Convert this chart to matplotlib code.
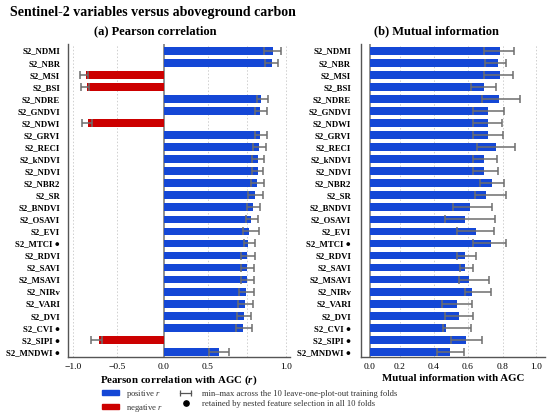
import matplotlib
matplotlib.use("Agg")
import matplotlib.pyplot as plt
import numpy as np
from matplotlib.lines import Line2D
from matplotlib.patches import Patch
from matplotlib.legend_handler import HandlerLine2D

plt.rcParams["font.family"] = ["Liberation Serif", "DejaVu Sans"]
plt.rcParams["mathtext.fontset"] = "custom"
plt.rcParams["mathtext.rm"] = "Liberation Serif"
plt.rcParams["mathtext.it"] = "Liberation Serif:italic"
plt.rcParams["mathtext.bf"] = "Liberation Serif:bold"
plt.rcParams["mathtext.bfit"] = "Liberation Serif:bold:italic"

# ---- data ----
variables = ["S2_NDMI", "S2_NBR", "S2_MSI", "S2_BSI", "S2_NDRE", "S2_GNDVI",
             "S2_NDWI", "S2_GRVI", "S2_RECI", "S2_kNDVI", "S2_NDVI", "S2_NBR2",
             "S2_SR", "S2_BNDVI", "S2_OSAVI", "S2_EVI", "S2_MTCI", "S2_RDVI",
             "S2_SAVI", "S2_MSAVI", "S2_NIRv", "S2_VARI", "S2_DVI", "S2_CVI",
             "S2_SIPI", "S2_MNDWI"]
retained = ["S2_MTCI", "S2_CVI", "S2_SIPI", "S2_MNDWI"]

pearson_r = [0.916, 0.910, -0.851, -0.843, 0.839, 0.835, -0.825, 0.833, 0.826,
             0.822, 0.820, 0.815, 0.800, 0.788, 0.775, 0.766, 0.759, 0.753,
             0.749, 0.749, 0.743, 0.736, 0.730, 0.725, -0.702, 0.571]
pearson_lo = [0.860, 0.867, -0.918, -0.907, 0.813, 0.802, -0.899, 0.802, 0.792,
              0.785, 0.785, 0.775, 0.759, 0.749, 0.743, 0.727, 0.734, 0.712,
              0.710, 0.710, 0.701, 0.691, 0.685, 0.680, -0.798, 0.508]
pearson_hi = [0.970, 0.952, -0.825, -0.814, 0.888, 0.882, -0.787, 0.878, 0.873,
              0.860, 0.856, 0.862, 0.856, 0.835, 0.824, 0.826, 0.802, 0.804,
              0.798, 0.796, 0.796, 0.788, 0.777, 0.781, -0.675, 0.633]

mi = [0.784, 0.776, 0.787, 0.695, 0.779, 0.713, 0.713, 0.713, 0.760, 0.695,
      0.695, 0.738, 0.705, 0.612, 0.580, 0.648, 0.733, 0.584, 0.580, 0.604,
      0.624, 0.538, 0.550, 0.471, 0.590, 0.497]
mi_lo = [0.695, 0.700, 0.695, 0.618, 0.679, 0.628, 0.628, 0.628, 0.652, 0.628,
         0.628, 0.672, 0.642, 0.512, 0.463, 0.538, 0.630, 0.538, 0.552, 0.546,
         0.582, 0.451, 0.463, 0.457, 0.502, 0.418]
mi_hi = [0.867, 0.821, 0.864, 0.760, 0.905, 0.808, 0.799, 0.803, 0.872, 0.768,
         0.772, 0.808, 0.822, 0.739, 0.755, 0.748, 0.820, 0.648, 0.630, 0.720,
         0.734, 0.622, 0.628, 0.618, 0.682, 0.574]

BLUE = "#1447d6"
RED = "#cc0000"
ERR = "#6e6e6e"


def knot_scale(vals, pix):
    """piecewise-linear axis scale through the given knots (as in the source figure)"""
    vals = np.asarray(vals, float)
    pix = np.asarray(pix, float)
    s0 = (pix[1] - pix[0]) / (vals[1] - vals[0])
    s1 = (pix[-1] - pix[-2]) / (vals[-1] - vals[-2])
    v = np.r_[vals[0] - 10, vals, vals[-1] + 10]
    p = np.r_[pix[0] - 10 * s0, pix, pix[-1] + 10 * s1]
    return (lambda x: np.interp(x, v, p)), (lambda y: np.interp(y, p, v))


labels = [f"{v} \u25cf" if v in retained else v for v in variables]
ypos = np.arange(len(variables))

fig = plt.figure(figsize=(5.5, 4.18), dpi=100)
axa = fig.add_axes([0.1231, 0.1452, 0.4042, 0.7488])
axb = fig.add_axes([0.6558, 0.1452, 0.3356, 0.7488])

# ---- (a) Pearson ----
r = np.array(pearson_r)
cols = [BLUE if v > 0 else RED for v in r]
axa.set_xscale("function", functions=knot_scale([-1, -0.5, 0, 0.5, 1.0],
                                                [72.7, 117.3, 164, 208, 285.7]))
axa.barh(ypos, r, height=0.64, color=cols, zorder=2)
axa.errorbar(r, ypos, xerr=[r - np.array(pearson_lo), np.array(pearson_hi) - r],
             fmt="none", ecolor=ERR, elinewidth=1.1, capsize=2.6, capthick=1.1, zorder=3)
axa.axvline(0, color="#888888", lw=1.3, zorder=1)
for g in [-1.0, -0.5, 0.5, 0.75, 1.0]:
    axa.axvline(g, color="#cfcfcf", lw=0.7, ls=(0, (1.5, 2)), zorder=0)
axa.set_xlim(-1.056, 1.028)
axa.set_xticks([-1.0, -0.5, 0.0, 0.5, 1.0])
axa.set_xticklabels(["\u22121.0", "\u22120.5", "0.0", "0.5", "1.0"])
axa.set_xlabel(r"Pearson correlation with AGC ($\mathbfit{r}$)", fontsize=7.8,
               fontweight="bold", labelpad=2)

# ---- (b) Mutual information ----
m = np.array(mi)
axb.set_xscale("function", functions=knot_scale([0, 0.2, 0.4, 0.6, 0.8, 1.0],
                                                [371, 400.5, 434.5, 468.5, 503, 536.5]))
axb.barh(ypos, m, height=0.64, color=BLUE, zorder=2)
axb.errorbar(m, ypos, xerr=[m - np.array(mi_lo), np.array(mi_hi) - m],
             fmt="none", ecolor=ERR, elinewidth=1.1, capsize=2.6, capthick=1.1, zorder=3)
axb.axvline(0, color="#888888", lw=1.3, zorder=1)
for g in [0.2, 0.4, 0.6, 0.8, 1.0]:
    axb.axvline(g, color="#cfcfcf", lw=0.7, ls=(0, (1.5, 2)), zorder=0)
axb.set_xlim(-0.062, 1.053)
axb.set_xticks([0.0, 0.2, 0.4, 0.6, 0.8, 1.0])
axb.set_xticklabels(["0.0", "0.2", "0.4", "0.6", "0.8", "1.0"])
axb.set_xlabel("Mutual information with AGC", fontsize=7.8, fontweight="bold", labelpad=2)

for ax, pad in [(axa, 5.5), (axb, 7.0)]:
    ax.set_ylim(len(variables) - 0.55, -0.53)
    ax.set_yticks(ypos)
    ax.set_yticklabels(labels, fontsize=6.3, fontweight="bold")
    ax.tick_params(axis="y", length=0, pad=pad)
    ax.tick_params(axis="x", length=0, pad=4, labelsize=6.8)
    for s in ["top", "right"]:
        ax.spines[s].set_visible(False)
    for s in ["left", "bottom"]:
        ax.spines[s].set_color("#555555")
        ax.spines[s].set_linewidth(1.0)

# ---- titles ----
fig.text(0.018, 0.971, "Sentinel-2 variables versus aboveground carbon",
         fontsize=10, fontweight="bold", va="center", ha="left")
fig.text(0.282, 0.924, "(a) Pearson correlation", fontsize=9,
         fontweight="bold", va="center", ha="center")
fig.text(0.794, 0.924, "(b) Mutual information", fontsize=9,
         fontweight="bold", va="center", ha="center")

# ---- legend ----
err_handle = Line2D([], [], color="#555555", lw=0.9, marker="|", ms=5, mew=0.9)
dot_handle = Line2D([], [], color="black", ls="none", marker="o", ms=3.8)
handles = [Patch(color=BLUE), Patch(color=RED), err_handle, dot_handle]
texts = [r"positive $\mathit{r}$", r"negative $\mathit{r}$",
         "min\u2013max across the 10 leave-one-plot-out training folds",
         "retained by nested feature selection in all 10 folds"]
leg = fig.legend(handles, texts, ncol=2, frameon=False, fontsize=6.2,
                 loc="upper left", bbox_to_anchor=(0.178, 0.083),
                 borderpad=0, handlelength=1.9, handleheight=0.5,
                 handletextpad=0.9, columnspacing=1.7, labelspacing=0.25,
                 handler_map={err_handle: HandlerLine2D(numpoints=2)})
for t in leg.get_texts():
    t.set_color("#333333")

fig.savefig("out.png", dpi=100)
